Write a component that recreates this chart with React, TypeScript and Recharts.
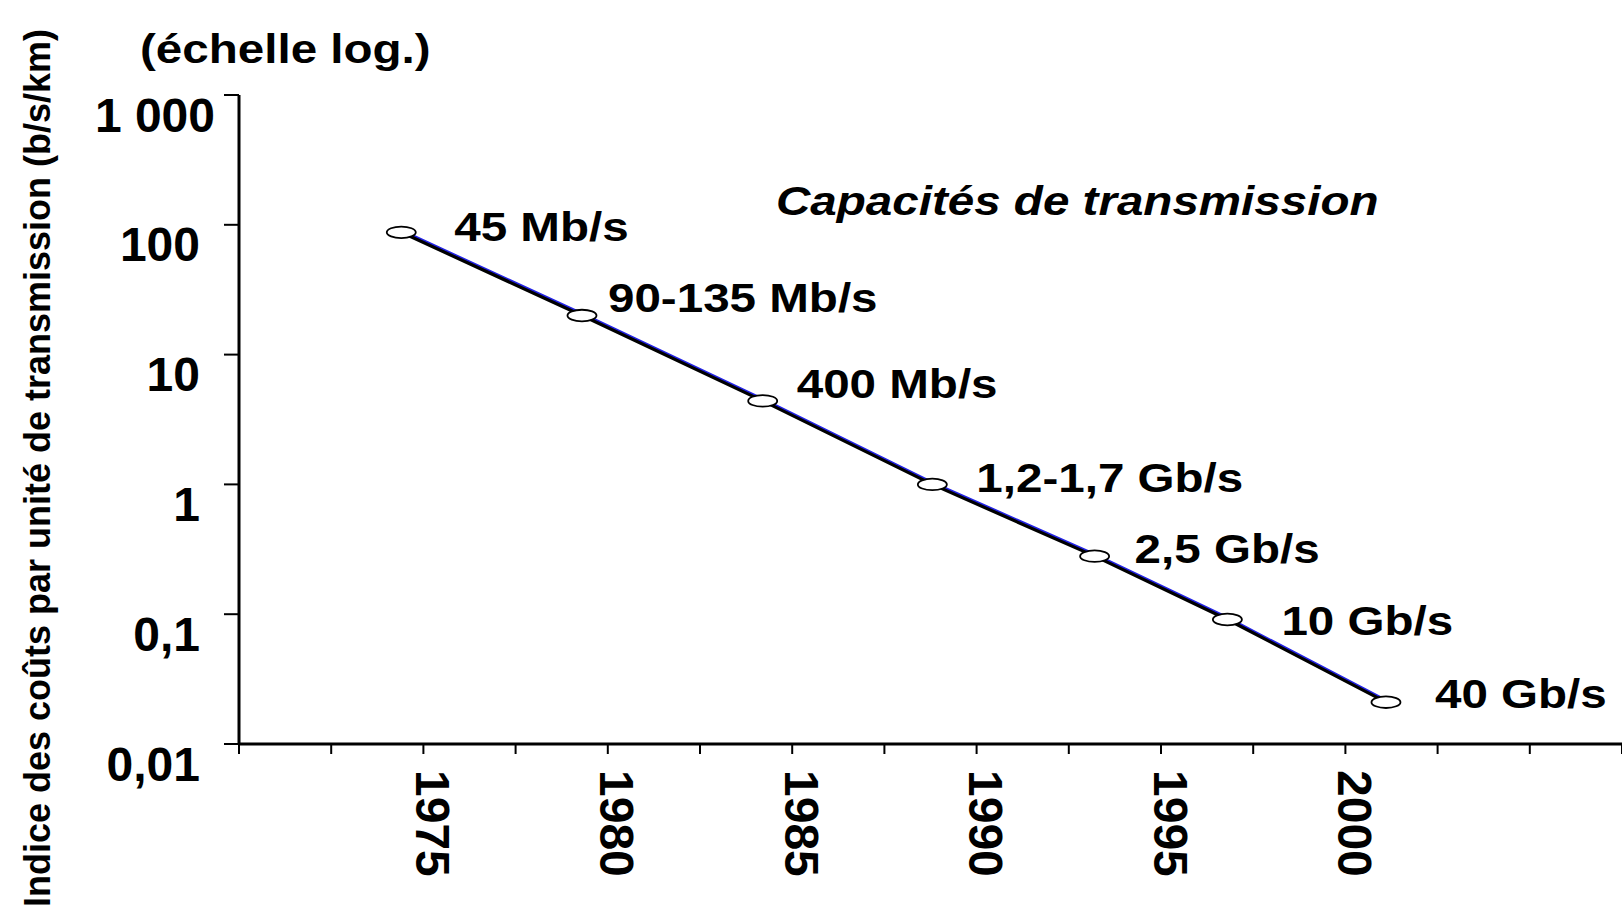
import React from "react";
import { LineChart, Line, XAxis, YAxis, LabelList } from "recharts";

const YEARS = [1974.4, 1979.3, 1984.2, 1988.8, 1993.2, 1996.8, 2001.1];
const COST_INDEX = [87.5, 20, 4.4, 1.0, 0.28, 0.091, 0.021];
const CAPACITY_LABELS = [
  "45 Mb/s",
  "90-135 Mb/s",
  "400 Mb/s",
  "1,2-1,7 Gb/s",
  "2,5 Gb/s",
  "10 Gb/s",
  "40 Gb/s",
];
const Y_TICKS = [0.01, 0.1, 1, 10, 100, 1000];
const Y_TICK_LABELS = ["0,01", "0,1", "1", "10", "100", "1 000"];
const X_TICKS = [1970, 1972.5, 1975, 1977.5, 1980, 1982.5, 1985, 1987.5, 1990, 1992.5, 1995, 1997.5, 2000, 2002.5, 2005, 2007.5];
const X_LABELED = [1975, 1980, 1985, 1990, 1995, 2000];

// label placement next to each marker (dx, dy in px)
const LABEL_OFFSETS: [number, number][] = [
  [53, -6],
  [26, -18],
  [34, -17],
  [44, -7],
  [40, -7],
  [54, 1],
  [49, -8],
];
// the "1 000" label sits a bit further right than the others
const Y_TICK_DX = [0, 0, 0, 0, 0, 15];

const W = 1622;
const H = 911;
const FONT = '"Liberation Sans", Arial, sans-serif';
const STRETCH = 1.16;

const data = YEARS.map((year, i) => ({
  year,
  cost: COST_INDEX[i],
  label: CAPACITY_LABELS[i],
}));

function Marker(props: any) {
  const { cx, cy, index } = props;
  if (cx == null || cy == null) return null;
  return (
    <ellipse
      key={`m-${index}`}
      cx={cx}
      cy={cy}
      rx={14.5}
      ry={5.8}
      fill="#fff"
      stroke="#000"
      strokeWidth={1.8}
    />
  );
}

function CapacityLabel(props: any) {
  const { x, y, index, value } = props;
  const [dx, dy] = LABEL_OFFSETS[index] ?? [40, -10];
  return (
    <text
      transform={`translate(${x + dx},${y + dy}) scale(${STRETCH},1)`}
      x={0}
      y={0}
      fontFamily={FONT}
      fontWeight={700}
      fontSize={41}
      fill="#000"
      dominantBaseline="central"
    >
      {value}
    </text>
  );
}

function YTick(props: any) {
  const { x, y, payload } = props;
  const i = Y_TICKS.indexOf(payload.value);
  return (
    <text
      x={x - 22 + (i >= 0 ? Y_TICK_DX[i] : 0)}
      y={y + 20}
      textAnchor="end"
      dominantBaseline="central"
      fontFamily={FONT}
      fontWeight={700}
      fontSize={48}
      fill="#000"
    >
      {i >= 0 ? Y_TICK_LABELS[i] : ""}
    </text>
  );
}

function XTick(props: any) {
  const { x, y, payload } = props;
  if (!X_LABELED.includes(payload.value)) return null;
  return (
    <text
      transform={`translate(${x + 9},${y + 14}) rotate(90)`}
      x={0}
      y={0}
      textAnchor="start"
      dominantBaseline="central"
      fontFamily={FONT}
      fontWeight={700}
      fontSize={48}
      fill="#000"
    >
      {payload.value}
    </text>
  );
}

export default function App() {
  return (
    <div
      style={{
        position: "absolute",
        left: 0,
        top: 0,
        width: W,
        height: H,
        background: "#fff",
        overflow: "hidden",
      }}
    >
      <style>{`.edge-blue .recharts-line-curve { transform: translate(-0.8px, -2px); }`}</style>
      <LineChart
        width={W}
        height={H}
        data={data}
        margin={{ top: 95, right: 0, bottom: 0, left: 0 }}
      >
        <XAxis
          dataKey="year"
          type="number"
          domain={[1970, 2007.5]}
          ticks={X_TICKS}
          interval={0}
          height={167}
          axisLine={{ stroke: "#000", strokeWidth: 3 }}
          tickLine={{ stroke: "#000", strokeWidth: 2 }}
          tickSize={10}
          tick={<XTick />}
          allowDataOverflow
        />
        <YAxis
          dataKey="cost"
          scale="log"
          domain={[0.01, 1000]}
          ticks={Y_TICKS}
          interval={0}
          width={239}
          axisLine={{ stroke: "#000", strokeWidth: 3 }}
          tickLine={{ stroke: "#000", strokeWidth: 2 }}
          tickSize={15}
          tick={<YTick />}
          allowDataOverflow
        />
        <Line
          className="edge-blue"
          dataKey="cost"
          stroke="#2323e6"
          strokeWidth={3.2}
          dot={false}
          activeDot={false}
          isAnimationActive={false}
        />
        <Line
          dataKey="cost"
          stroke="#000"
          strokeWidth={3.2}
          dot={<Marker />}
          activeDot={false}
          isAnimationActive={false}
        >
          <LabelList dataKey="label" content={<CapacityLabel />} />
        </Line>
      </LineChart>
      <svg
        width={W}
        height={H}
        style={{ position: "absolute", left: 0, top: 0, pointerEvents: "none" }}
      >
        <text
          transform={`translate(140,49) scale(${STRETCH},1)`}
          fontFamily={FONT}
          fontWeight={700}
          fontSize={41}
          dominantBaseline="central"
          fill="#000"
        >
          (échelle log.)
        </text>
        <text
          transform={`translate(776,201) scale(${STRETCH},1)`}
          fontFamily={FONT}
          fontWeight={700}
          fontStyle="italic"
          fontSize={41}
          dominantBaseline="central"
          fill="#000"
        >
          Capacités de transmission
        </text>
        <text
          transform="translate(37,468) rotate(-90)"
          textAnchor="middle"
          fontFamily={FONT}
          fontWeight={700}
          fontSize={36}
          dominantBaseline="central"
          fill="#000"
        >
          Indice des coûts par unité de transmission (b/s/km)
        </text>
      </svg>
    </div>
  );
}
